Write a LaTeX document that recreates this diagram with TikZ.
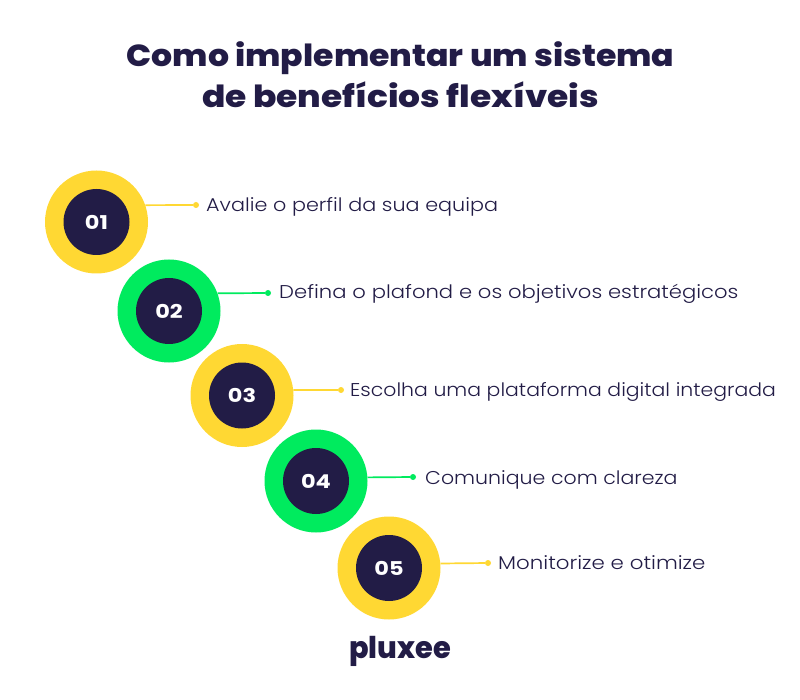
\documentclass[tikz,border=0pt]{standalone}
\usepackage{fontspec}
\setmainfont{Poppins}
\newfontfamily\bodyfont[FakeStretch=1.12]{Poppins Light}
\newfontfamily\headfont[FakeStretch=1.08]{Poppins ExtraBold}
\newfontfamily\numfont[FakeStretch=1.18]{Poppins Bold}
\newfontfamily\logofont{Poppins ExtraBold}
\definecolor{navy}{HTML}{221C46}
\definecolor{sun}{HTML}{FFD833}
\definecolor{mint}{HTML}{00EB5E}
\tikzset{
 x=1pt,y=-1pt,
 ring/.style={circle,fill=#1,draw=none,inner sep=0pt,minimum size=103pt},
 core/.style={circle,fill=navy,draw=none,inner sep=0pt,minimum size=66pt,text=white,font=\numfont\fontsize{19}{19}\selectfont},
 tipdot/.style={circle,fill=#1,draw=none,inner sep=0pt,minimum size=6pt},
 link/.style={draw=#1,line width=1.7pt},
 stepnote/.style={anchor=west,inner sep=0pt,text=navy,font=\bodyfont\fontsize{18.5}{18.5}\selectfont},
 headline/.style={text=navy,font=\headfont\fontsize{30.5}{30.5}\selectfont,inner sep=0pt},
}
\begin{document}
\begin{tikzpicture}
\useasboundingbox (0,0) rectangle (800,700);
\fill[white] (0,0) rectangle (800,700);
\node[headline] (t1) at (400.5,58) {\scalebox{1.005}[1]{Como implementar um sistema}};
\node[headline] (t2) at (400.5,95) {\scalebox{1.045}[1]{de benefícios flexíveis}};
% 01
\node[ring=sun] (r1) at (96.5,222) {};
\node[core] (c1) at (r1.center) {01};
\node[tipdot=sun] (d1) at (196,205) {};
\draw[link=sun] (r1.19.3) -- (d1);
\node[stepnote] (n1) at (206,207) {Avalie o perfil da sua equipa};
% 02
\node[ring=mint] (r2) at (169,311) {};
\node[core] (c2) at (r2.center) {02};
\node[tipdot=mint] (d2) at (268,293) {};
\draw[link=mint] (r2.20.4) -- (d2);
\node[stepnote] (n2) at (279,294) {\scalebox{1.02}[1]{Defina o plafond e os objetivos estratégicos}};
% 03
\node[ring=sun] (r3) at (242,395.5) {};
\node[core] (c3) at (r3.center) {03};
\node[tipdot=sun] (d3) at (341,390) {};
\draw[link=sun] (r3.6.1) -- (d3);
\node[stepnote] (n3) at (350,392) {\scalebox{0.986}[1]{Escolha uma plataforma digital integrada}};
% 04
\node[ring=mint] (r4) at (316,481) {};
\node[core] (c4) at (r4.center) {04};
\node[tipdot=mint] (d4) at (413,477) {};
\draw[link=mint] (r4.4.45) -- (d4);
\node[stepnote] (n4) at (425,480) {\scalebox{0.99}[1]{Comunique com clareza}};
% 05
\node[ring=sun] (r5) at (389,568) {};
\node[core] (c5) at (r5.center) {05};
\node[tipdot=sun] (d5) at (488,563) {};
\draw[link=sun] (r5.5.6) -- (d5);
\node[stepnote] (n5) at (498,563) {\scalebox{1.03}[1]{Monitorize e otimize}};
\node[text=navy,inner sep=0pt,font=\logofont\fontsize{30}{30}\selectfont] (logo) at (400,651) {\scalebox{0.96}[1]{pluxee}};
\end{tikzpicture}
\end{document}
